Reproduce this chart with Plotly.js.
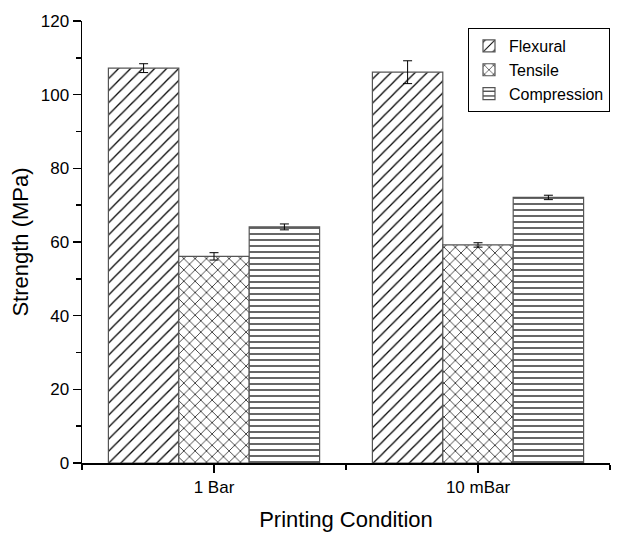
<!DOCTYPE html>
<html>
<head>
<meta charset="utf-8">
<script src="https://cdn.plot.ly/plotly-3.0.1.min.js"></script>
<style>html,body{margin:0;padding:0;background:#fff;}#chart{width:623px;height:533px;}</style>
</head>
<body>
<div id="chart"></div>
<script>
const categories = ["1 Bar", "10 mBar"];
const seriesNames = ["Flexural", "Tensile", "Compression"];
const flexural = [107.2, 106.1];
const flexuralErr = [1.2, 3.1];
const tensile = [56.1, 59.2];
const tensileErr = [1.0, 0.6];
const compression = [64.1, 72.1];
const compressionErr = [0.8, 0.6];
const yTicks = [0, 20, 40, 60, 80, 100, 120];

const values = [flexural, tensile, compression];
const errors = [flexuralErr, tensileErr, compressionErr];
const patterns = [
  {shape: "/", size: 8.5, solidity: 0.15},
  {shape: "x", size: 8, solidity: 0.17},
  {shape: "-", size: 6, solidity: 0.2}
];
const xIdx = categories.map((c, i) => i);

const traces = seriesNames.map((name, k) => ({
  type: "bar",
  name: name,
  x: xIdx,
  y: values[k],
  error_y: {type: "data", array: errors[k], visible: true, color: "#000", thickness: 1, width: 4.5},
  marker: {
    color: "#000",
    line: {color: "#555", width: 1.2},
    pattern: Object.assign({fgcolor: "#000", bgcolor: "#fff", fillmode: "replace"}, patterns[k])
  }
}));

const layout = {
  width: 623, height: 533,
  margin: {l: 82, r: 13, t: 21, b: 70},
  paper_bgcolor: "#fff", plot_bgcolor: "#fff",
  font: {family: "Liberation Sans", color: "#000", size: 17},
  barmode: "group", bargap: 0.2, bargroupgap: 0,
  showlegend: true,
  legend: {
    x: 1, xanchor: "right", y: 0.984, yanchor: "top",
    bordercolor: "#000", borderwidth: 1, bgcolor: "#fff",
    font: {size: 16}, tracegroupgap: 0, itemclick: false
  },
  xaxis: {
    range: [-0.5, 1.5],
    tickvals: xIdx, ticktext: categories,
    ticks: "outside", ticklen: 8, tickwidth: 1.5, tickcolor: "#000",
    showline: true, linecolor: "#000", linewidth: 1.5,
    showgrid: false, zeroline: false,
    minor: {tickvals: [-0.5, 0.5, 1.5], ticks: "outside", ticklen: 5, tickwidth: 1.5, tickcolor: "#000"},
    tickfont: {size: 17},
    title: {text: "Printing Condition", font: {size: 22}, standoff: 15}
  },
  yaxis: {
    range: [0, 120],
    tickvals: yTicks,
    ticks: "outside", ticklen: 8, tickwidth: 1.5, tickcolor: "#000",
    showline: true, linecolor: "#000", linewidth: 1.5,
    showgrid: false, zeroline: false,
    minor: {dtick: 10, ticks: "outside", ticklen: 5, tickwidth: 1.5, tickcolor: "#000"},
    tickfont: {size: 17},
    title: {text: "Strength (MPa)", font: {size: 22}, standoff: 6}
  }
};

Plotly.newPlot("chart", traces, layout, {displayModeBar: false, staticPlot: true});
</script>
</body>
</html>
